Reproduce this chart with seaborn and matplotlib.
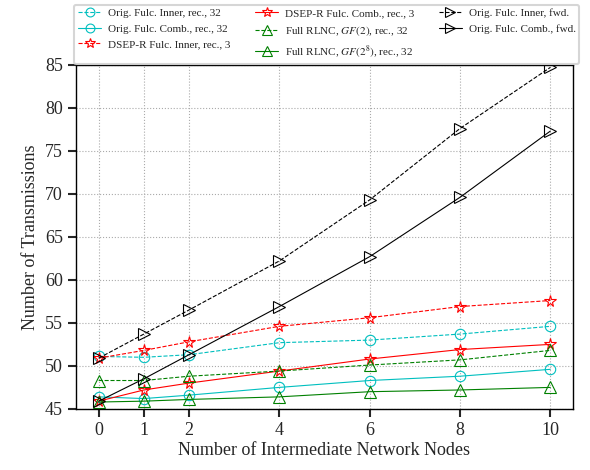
import matplotlib
matplotlib.use("Agg")
import matplotlib.pyplot as plt
import seaborn as sns
import numpy as np

sns.set_style("white")
plt.rcParams['font.family'] = ['Liberation Serif', 'DejaVu Serif']
plt.rcParams['mathtext.fontset'] = 'stix'

nodes = [0, 1, 2, 4, 6, 8, 10]
orig_inner_rec = [51.1, 51.0, 51.3, 52.7, 53.0, 53.7, 54.6]
orig_comb_rec = [46.4, 46.2, 46.6, 47.5, 48.3, 48.8, 49.6]
dsep_inner_rec = [50.9, 51.8, 52.8, 54.6, 55.6, 56.9, 57.6]
dsep_comb_rec = [45.9, 47.2, 48.0, 49.4, 50.8, 51.9, 52.5]
rlnc_gf2 = [48.3, 48.3, 48.8, 49.4, 50.1, 50.7, 51.8]
rlnc_gf256 = [45.8, 45.9, 46.1, 46.4, 47.0, 47.2, 47.5]
orig_inner_fwd = [50.9, 53.7, 56.5, 62.2, 69.3, 77.6, 84.7]
orig_comb_fwd = [45.9, 48.5, 51.3, 56.9, 62.7, 69.6, 77.3]

labels = ["Orig. Fulc. Inner, rec., 32", "Orig. Fulc. Comb., rec., 32",
          "DSEP-R Fulc. Inner, rec., 3", "DSEP-R Fulc. Comb., rec., 3",
          r"Full RLNC, $GF(2)$, rec., 32", r"Full RLNC, $GF(2^8)$, rec., 32",
          "Orig. Fulc. Inner, fwd.", "Orig. Fulc. Comb., fwd."]
series = [orig_inner_rec, orig_comb_rec, dsep_inner_rec, dsep_comb_rec,
          rlnc_gf2, rlnc_gf256, orig_inner_fwd, orig_comb_fwd]
colors = ['#00BFBF', '#00BFBF', 'red', 'red', 'green', 'green', 'black', 'black']
styles = ['--', '-', '--', '-', '--', '-', '--', '-']
markers = ['o', 'o', '*', '*', '^', '^', '>', '>']
msizes = [7.5, 7.5, 8.5, 8.5, 8, 8, 8, 8]

fig = plt.figure(figsize=(5.9, 4.7), dpi=100)
ax = fig.add_axes([0.129, 0.130, 0.842, 0.732])

handles = []
for y, lab, c, ls, m, ms in zip(series, labels, colors, styles, markers, msizes):
    sns.lineplot(x=nodes, y=y, ax=ax, color=c, linestyle=ls, marker=m,
                 markersize=ms, markerfacecolor='none', markeredgecolor=c,
                 markeredgewidth=0.8, linewidth=0.8, label=lab, legend=False)
    handles.append(ax.lines[-1])

ax.set_xlim(-0.5, 10.5)
ax.set_ylim(45, 85)
ax.set_xticks(nodes)
ax.set_yticks(np.arange(45, 86, 5))
ax.grid(True, color='#aaaaaa', linestyle=':', linewidth=0.8)
ax.tick_params(axis='both', direction='out', length=6, width=1.5, labelsize=13, left=True, bottom=True)
for s in ax.spines.values():
    s.set_color('black')
    s.set_linewidth(1.0)
ax.set_xlabel("Number of Intermediate Network Nodes", fontsize=13, labelpad=2)
ax.set_ylabel("Number of Transmissions", fontsize=13, labelpad=4)

leg = fig.legend(handles, labels, loc='upper left', bbox_to_anchor=(0.122, 0.995),
                 ncol=3, fontsize=8, frameon=True, handlelength=2.1,
                 columnspacing=2.2, labelspacing=0.5, borderpad=0.35, handletextpad=0.6,
                 borderaxespad=0.2, markerscale=0.85)
leg.get_frame().set_edgecolor('#cccccc')
leg.get_frame().set_linewidth(1.5)

fig.savefig("out.png", dpi=100)
